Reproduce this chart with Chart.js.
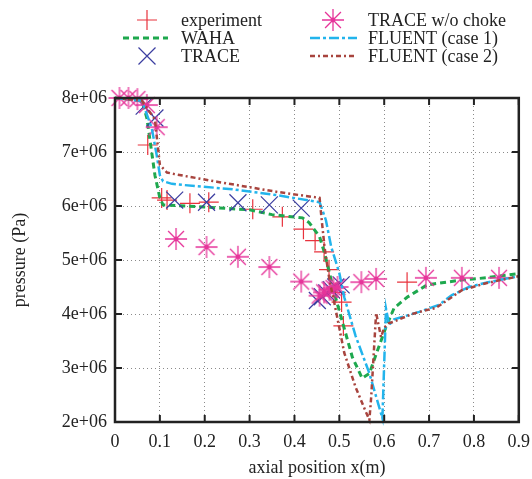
<!DOCTYPE html>
<html>
<head>
<meta charset="utf-8">
<script src="https://cdn.jsdelivr.net/npm/chart.js@4.4.1/dist/chart.umd.min.js"></script>
<style>
  html, body { margin: 0; padding: 0; background: #fff; }
  #wrap { width: 532px; height: 479px; }
</style>
</head>
<body>
<div id="wrap"><canvas id="c" width="532" height="479"></canvas></div>
<script>
// axial position (m) and pressure (Pa)
const expX = [0.073, 0.104, 0.116, 0.167, 0.209, 0.307, 0.373, 0.420, 0.446, 0.466, 0.477, 0.492, 0.505, 0.509, 0.651];
const expY = [7.13e6, 6.15e6, 6.11e6, 6.05e6, 6.07e6, 5.94e6, 5.80e6, 5.57e6, 5.36e6, 5.15e6, 4.82e6, 4.40e6, 4.22e6, 3.78e6, 4.59e6];

const wahaX = [0, 0.06, 0.071, 0.08, 0.089, 0.1, 0.107, 0.2, 0.3, 0.35, 0.418, 0.433, 0.456, 0.467, 0.478, 0.49, 0.504, 0.529, 0.551, 0.567, 0.584, 0.604, 0.622, 0.651, 0.696, 0.773, 0.827, 0.9];
const wahaY = [8.0e6, 7.95e6, 7.63e6, 7.1e6, 6.57e6, 6.15e6, 6.02e6, 5.98e6, 5.93e6, 5.84e6, 5.78e6, 5.69e6, 5.43e6, 5.13e6, 4.76e6, 4.35e6, 3.94e6, 3.2e6, 2.81e6, 2.9e6, 3.3e6, 3.76e6, 4.11e6, 4.31e6, 4.54e6, 4.63e6, 4.67e6, 4.75e6];

const traceX = [0.065, 0.089, 0.133, 0.204, 0.274, 0.344, 0.415, 0.451, 0.462, 0.472, 0.482, 0.492, 0.504];
const traceY = [7.85e6, 7.63e6, 6.11e6, 6.07e6, 6.06e6, 6.02e6, 5.96e6, 4.25e6, 4.32e6, 4.39e6, 4.45e6, 4.50e6, 4.54e6];

const noChokeX = [0.01, 0.03, 0.05, 0.071, 0.093, 0.136, 0.204, 0.274, 0.344, 0.415, 0.456, 0.466, 0.478, 0.487, 0.496, 0.549, 0.582, 0.693, 0.773, 0.856];
const noChokeY = [8.0e6, 8.0e6, 7.98e6, 7.87e6, 7.46e6, 5.39e6, 5.24e6, 5.06e6, 4.87e6, 4.60e6, 4.34e6, 4.40e6, 4.45e6, 4.48e6, 4.50e6, 4.59e6, 4.65e6, 4.67e6, 4.67e6, 4.67e6];

const fl1X = [0, 0.06, 0.082, 0.093, 0.1, 0.107, 0.127, 0.151, 0.262, 0.362, 0.456, 0.47, 0.482, 0.5, 0.511, 0.536, 0.567, 0.596, 0.604, 0.611, 0.622, 0.65, 0.678, 0.722, 0.751, 0.789, 0.827, 0.9];
const fl1Y = [8.0e6, 7.95e6, 7.44e6, 6.94e6, 6.57e6, 6.46e6, 6.41e6, 6.39e6, 6.31e6, 6.2e6, 6.07e6, 5.74e6, 5.24e6, 4.76e6, 4.31e6, 3.6e6, 2.9e6, 2.07e6, 4.1e6, 3.8e6, 3.9e6, 3.97e6, 4.04e6, 4.17e6, 4.35e6, 4.5e6, 4.58e6, 4.7e6];

const fl2X = [0, 0.06, 0.089, 0.1, 0.116, 0.133, 0.227, 0.362, 0.456, 0.46, 0.467, 0.478, 0.489, 0.511, 0.536, 0.56, 0.567, 0.571, 0.582, 0.593, 0.6, 0.611, 0.622, 0.662, 0.693, 0.715, 0.773, 0.827, 0.9];
const fl2Y = [8.0e6, 7.95e6, 7.6e6, 6.76e6, 6.62e6, 6.59e6, 6.45e6, 6.26e6, 6.15e6, 5.8e6, 5.24e6, 4.63e6, 4.2e6, 3.28e6, 2.65e6, 2.17e6, 2.04e6, 2.46e6, 4.02e6, 3.57e6, 3.75e6, 3.83e6, 3.86e6, 4.0e6, 4.07e6, 4.11e6, 4.44e6, 4.57e6, 4.7e6];

const xTicks = [0, 0.1, 0.2, 0.3, 0.4, 0.5, 0.6, 0.7, 0.8, 0.9];
const yTicks = [2e6, 3e6, 4e6, 5e6, 6e6, 7e6, 8e6];

const RED = '#e8323c', GREEN = '#1ea84e', BLUE = '#3b3ea0', PINK = '#e6359a', CYAN = '#22b4ec', BROWN = '#a8443e';
const FONT = '"Liberation Serif", "DejaVu Serif", serif';

const pts = (xs, ys) => xs.map((x, i) => ({ x: x, y: ys[i] }));

// asterisk with a dot in the middle, as image point style
function makeStar(r) {
    const c = document.createElement('canvas');
    const s = Math.ceil(r * 2 + 4);
    c.width = s; c.height = s;
    const g = c.getContext('2d');
    const m = s / 2, d = r * 0.72;
    g.strokeStyle = PINK;
    g.lineWidth = 1.3;
    g.beginPath();
    g.moveTo(m, m - r); g.lineTo(m, m + r);
    g.moveTo(m - r, m); g.lineTo(m + r, m);
    g.moveTo(m - d, m - d); g.lineTo(m + d, m + d);
    g.moveTo(m - d, m + d); g.lineTo(m + d, m - d);
    g.stroke();
    g.fillStyle = PINK;
    g.beginPath(); g.arc(m, m, 2.4, 0, Math.PI * 2); g.fill();
    return c;
}
const starImg = makeStar(11);

const datasets = [
    { label: 'experiment', data: pts(expX, expY), showLine: false, pointStyle: 'cross', pointRadius: 10,
      borderColor: RED, backgroundColor: RED, pointBorderWidth: 1.2, order: 6 },
    { label: 'WAHA', data: pts(wahaX, wahaY), showLine: true, pointRadius: 0, borderColor: GREEN,
      borderWidth: 3, borderDash: [6, 4], order: 5 },
    { label: 'TRACE', data: pts(traceX, traceY), showLine: false, pointStyle: 'crossRot', pointRadius: 12,
      borderColor: BLUE, backgroundColor: BLUE, pointBorderWidth: 1.2, order: 4 },
    { label: 'TRACE w/o choke', data: pts(noChokeX, noChokeY), showLine: false, pointStyle: starImg,
      pointRadius: 11, borderColor: PINK, backgroundColor: PINK, order: 3 },
    { label: 'FLUENT (case 1)', data: pts(fl1X, fl1Y), showLine: true, pointRadius: 0, borderColor: CYAN,
      borderWidth: 2.5, borderDash: [10, 3, 3, 3], order: 2 },
    { label: 'FLUENT (case 2)', data: pts(fl2X, fl2Y), showLine: true, pointRadius: 0, borderColor: BROWN,
      borderWidth: 2.5, borderDash: [5, 3, 2, 3], order: 1 }
];

// legend in two columns like the original, plus the gnuplot-style frame with inward ticks
const framePlugin = {
    id: 'frame',
    afterDraw(chart) {
        const { ctx, chartArea: a, scales } = chart;
        ctx.save();
        ctx.strokeStyle = '#222';
        ctx.lineWidth = 2;
        ctx.beginPath();
        xTicks.forEach(v => {
            const px = scales.x.getPixelForValue(v);
            ctx.moveTo(px, a.bottom); ctx.lineTo(px, a.bottom - 7);
            ctx.moveTo(px, a.top); ctx.lineTo(px, a.top + 7);
        });
        yTicks.forEach(v => {
            const py = scales.y.getPixelForValue(v);
            ctx.moveTo(a.left, py); ctx.lineTo(a.left + 7, py);
            ctx.moveTo(a.right, py); ctx.lineTo(a.right - 7, py);
        });
        ctx.stroke();
        ctx.lineWidth = 2.5;
        ctx.strokeRect(a.left, a.top, a.right - a.left, a.bottom - a.top);

        // legend
        const rows = [20, 38, 56];
        const cols = [{ c: 147, l: 123, r: 168, t: 181 }, { c: 333, l: 310, r: 357, t: 368 }];
        ctx.font = '18px ' + FONT;
        ctx.textBaseline = 'middle';
        datasets.forEach((ds, i) => {
            const col = cols[Math.floor(i / 3)], y = rows[i % 3];
            ctx.fillStyle = '#222';
            ctx.fillText(ds.label, col.t, y + 1);
            ctx.strokeStyle = ds.borderColor;
            if (ds.showLine) {
                ctx.lineWidth = ds.borderWidth;
                ctx.setLineDash(ds.borderDash);
                ctx.beginPath(); ctx.moveTo(col.l, y); ctx.lineTo(col.r, y); ctx.stroke();
                ctx.setLineDash([]);
            } else if (ds.pointStyle === 'cross') {
                ctx.lineWidth = 1.2;
                ctx.beginPath();
                ctx.moveTo(col.c - 10, y); ctx.lineTo(col.c + 10, y);
                ctx.moveTo(col.c, y - 10); ctx.lineTo(col.c, y + 10);
                ctx.stroke();
            } else if (ds.pointStyle === 'crossRot') {
                ctx.lineWidth = 1.2;
                const d = 8.5;
                ctx.beginPath();
                ctx.moveTo(col.c - d, y - d); ctx.lineTo(col.c + d, y + d);
                ctx.moveTo(col.c - d, y + d); ctx.lineTo(col.c + d, y - d);
                ctx.stroke();
            } else {
                ctx.drawImage(starImg, col.c - starImg.width / 2, y - starImg.height / 2);
            }
        });
        ctx.restore();
    }
};

new Chart(document.getElementById('c'), {
    type: 'scatter',
    data: { datasets: datasets },
    options: {
        responsive: false,
        animation: false,
        events: [],
        clip: false,
        layout: { padding: { top: 98, right: 12, left: 0, bottom: 0 } },
        plugins: { legend: { display: false }, tooltip: { enabled: false } },
        scales: {
            x: {
                type: 'linear', min: 0, max: 0.9,
                afterBuildTicks: s => { s.ticks = xTicks.map(v => ({ value: v })); },
                afterFit: s => { s.height = 57; s.paddingLeft = 0; s.paddingRight = 0; },
                ticks: { padding: 9, color: '#222', font: { family: FONT, size: 18 },
                         callback: v => String(Number(v.toFixed(1))) },
                grid: { color: '#8a8a8a', lineWidth: 1, drawTicks: false },
                border: { display: false, dash: [1, 3] },
                title: { display: true, text: 'axial position x(m)', color: '#222',
                         font: { family: FONT, size: 18 }, padding: { top: 0, bottom: 0 } }
            },
            y: {
                type: 'linear', min: 2e6, max: 8e6,
                afterBuildTicks: s => { s.ticks = yTicks.map(v => ({ value: v })); },
                afterFit: s => { s.width = 115; s.paddingTop = 0; s.paddingBottom = 0; },
                ticks: { padding: 8, color: '#222', font: { family: FONT, size: 18 },
                         callback: v => Math.round(v / 1e6) + 'e+06' },
                grid: { color: '#8a8a8a', lineWidth: 1, drawTicks: false },
                border: { display: false, dash: [1, 3] },
                title: { display: true, text: 'pressure (Pa)', color: '#222',
                         font: { family: FONT, size: 18 }, padding: { top: 9, bottom: 0 } }
            }
        }
    },
    plugins: [framePlugin]
});
</script>
</body>
</html>
